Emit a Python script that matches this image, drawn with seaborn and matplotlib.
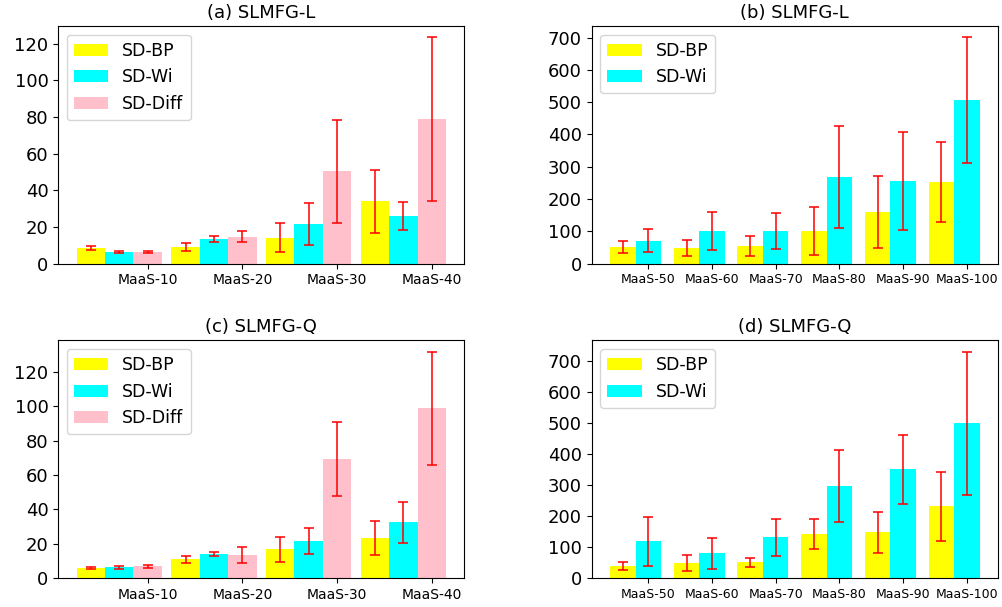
import matplotlib
matplotlib.use("Agg")
import matplotlib.pyplot as plt
from matplotlib.ticker import MultipleLocator
import seaborn as sns
import pandas as pd

# Data (mean values and symmetric error half-widths)
groups_small = ["MaaS-10", "MaaS-20", "MaaS-30", "MaaS-40"]
groups_large = ["MaaS-50", "MaaS-60", "MaaS-70", "MaaS-80", "MaaS-90", "MaaS-100"]

# (a) SLMFG-L, small instances
a_bp = [8.5, 9.1, 14.0, 34.1]
a_bp_err = [1.0, 2.0, 7.9, 17.2]
a_wi = [6.4, 13.4, 21.6, 26.0]
a_wi_err = [0.5, 1.4, 11.6, 7.7]
a_diff = [6.4, 14.5, 50.5, 78.8]
a_diff_err = [0.5, 3.0, 28.1, 44.7]

# (b) SLMFG-L, large instances
b_bp = [51.6, 48.5, 54.7, 101.2, 160.0, 253.0]
b_bp_err = [19.6, 24.8, 30.0, 74.3, 112.5, 124.4]
b_wi = [70.2, 101.2, 101.2, 268.4, 256.0, 507.0]
b_wi_err = [35.6, 58.3, 54.7, 158.5, 152.3, 194.0]

# (c) SLMFG-Q, small instances
c_bp = [5.6, 10.9, 16.7, 23.1]
c_bp_err = [0.7, 2.1, 7.4, 9.9]
c_wi = [6.2, 13.8, 21.4, 32.4]
c_wi_err = [0.8, 1.3, 7.6, 12.0]
c_diff = [6.8, 13.2, 69.3, 98.8]
c_diff_err = [0.8, 4.7, 21.8, 33.1]

# (d) SLMFG-Q, large instances
d_bp = [37.6, 47.3, 50.5, 140.9, 147.3, 231.2]
d_bp_err = [12.9, 25.3, 14.0, 48.4, 65.6, 111.3]
d_wi = [118.3, 79.6, 131.2, 295.7, 350.5, 498.9]
d_wi_err = [79.6, 50.0, 59.2, 116.0, 111.3, 230.6]

colors = {"SD-BP": "#ffff00", "SD-Wi": "#00ffff", "SD-Diff": "#ffc0cb"}


def panel(ax, title, groups, series, xtick_size, ystep):
    rows = []
    for name, vals, errs in series:
        for g, v, e in zip(groups, vals, errs):
            rows.append({"group": g, "method": name, "value": v, "err": e})
    df = pd.DataFrame(rows)
    names = [s[0] for s in series]
    width = 0.9 if len(series) == 3 else 0.8

    sns.barplot(data=df, x="group", y="value", hue="method", hue_order=names,
                order=groups, palette=colors, saturation=1, width=width,
                errorbar=None, ax=ax)
    bars = list(ax.containers)

    # error bars at the centres of the bars seaborn drew
    for cont, (name, vals, errs) in zip(bars, series):
        xs = [p.get_x() + p.get_width() / 2 for p in cont.patches]
        ax.errorbar(xs, vals, yerr=errs, fmt="none", ecolor="red",
                    elinewidth=1.3, capsize=3.5, capthick=1.3, alpha=0.85)

    # ticks sit under the last bar of each group, like the original
    last = bars[-1].patches
    ax.set_xticks([p.get_x() + p.get_width() / 2 for p in last])
    ax.set_xticklabels(groups, fontsize=xtick_size)

    lefts = [p.get_x() for c in bars for p in c.patches]
    rights = [p.get_x() + p.get_width() for c in bars for p in c.patches]
    lo, hi = min(lefts), max(rights)
    pad = 0.05 * (hi - lo)
    ax.set_xlim(lo - pad, hi + pad)

    ax.yaxis.set_major_locator(MultipleLocator(ystep))
    ax.set_xlabel("")
    ax.set_ylabel("")
    ax.tick_params(axis="y", labelsize=13)
    ax.set_title(title, fontsize=13)
    handles, labels = ax.get_legend_handles_labels()
    ax.legend(handles, labels, loc="upper left", fontsize=12.5)


fig, axes = plt.subplots(2, 2, figsize=(10.02, 6.07), dpi=100)
fig.subplots_adjust(left=0.058, right=0.996, top=0.957, bottom=0.048,
                    wspace=0.313, hspace=0.324)

panel(axes[0, 0], "(a) SLMFG-L", groups_small,
      [("SD-BP", a_bp, a_bp_err), ("SD-Wi", a_wi, a_wi_err),
       ("SD-Diff", a_diff, a_diff_err)], 10, 20)
panel(axes[0, 1], "(b) SLMFG-L", groups_large,
      [("SD-BP", b_bp, b_bp_err), ("SD-Wi", b_wi, b_wi_err)], 9, 100)
panel(axes[1, 0], "(c) SLMFG-Q", groups_small,
      [("SD-BP", c_bp, c_bp_err), ("SD-Wi", c_wi, c_wi_err),
       ("SD-Diff", c_diff, c_diff_err)], 10, 20)
panel(axes[1, 1], "(d) SLMFG-Q", groups_large,
      [("SD-BP", d_bp, d_bp_err), ("SD-Wi", d_wi, d_wi_err)], 9, 100)

fig.savefig("out.png", dpi=100)
